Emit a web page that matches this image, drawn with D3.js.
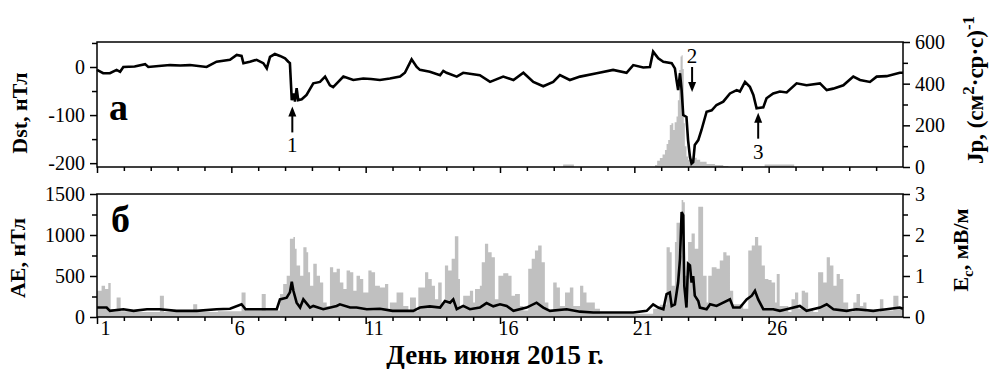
<!DOCTYPE html>
<html><head><meta charset="utf-8">
<script src="https://cdn.jsdelivr.net/npm/d3@7"></script>
<style>
body{margin:0;background:#fff}
svg{display:block}
text{font-family:"Liberation Serif","Times New Roman",serif;fill:#000}
</style>
</head><body>
<svg id="c" width="991" height="369"></svg>
<script>
// ---- data (day of June 2015, value) ----
const dstSeries = [[1.0,-6],[1.23,-13],[1.48,-13],[1.73,-6],[1.86,-10],[1.98,0],[2.4,1],[2.79,6],[2.91,0],[3.3,2],[3.72,4],[4.1,3],[4.46,4],[5.08,0],[5.45,11],[5.95,15],[6.2,25],[6.38,23],[6.45,8],[6.69,11],[6.94,15],[7.19,8],[7.32,-3],[7.44,21],[7.62,27],[7.81,23],[8.0,18],[8.12,11],[8.18,8],[8.25,-69],[8.31,-55],[8.37,-72],[8.43,-44],[8.49,-69],[8.62,-67],[8.8,-58],[9.05,-34],[9.3,-31],[9.49,-20],[9.67,-38],[9.79,-42],[9.98,-31],[10.17,-20],[10.54,-27],[10.91,-24],[11.2,-25],[11.53,-27],[11.9,-24],[12.28,-20],[12.46,-12],[12.71,16],[12.9,0],[13.02,-6],[13.39,-10],[13.77,-17],[13.89,-8],[14.01,-12],[14.39,-20],[14.63,-12],[15.25,-17],[15.63,-31],[16.12,-20],[16.5,-27],[16.87,-12],[17.24,-31],[17.61,-40],[17.98,-31],[18.23,-17],[18.6,-27],[18.98,-20],[19.6,-13],[20.21,-6],[20.71,-12],[20.96,4],[21.33,-1],[21.58,0],[21.7,32],[21.89,18],[22.08,11],[22.39,8],[22.51,-3],[22.57,-27],[22.63,-48],[22.7,-13],[22.76,-48],[22.82,-100],[22.94,-104],[23.0,-152],[23.07,-187],[23.13,-201],[23.19,-198],[23.25,-162],[23.38,-152],[23.5,-131],[23.69,-93],[23.88,-90],[24.06,-79],[24.31,-72],[24.56,-55],[24.81,-48],[24.93,-51],[25.12,-31],[25.3,-41],[25.43,-58],[25.55,-86],[25.8,-84],[25.92,-65],[26.17,-55],[26.42,-51],[26.67,-53],[27.04,-34],[27.41,-38],[27.91,-34],[28.16,-48],[28.4,-45],[28.78,-38],[29.15,-20],[29.4,-27],[29.77,-31],[30.02,-20],[30.39,-19],[30.88,-12],[31.0,-12]];

const jpSeries = [[1,0],[18.3,0],[18.35,12],[18.7,12],[18.75,0],[21.72,0],[21.77,10],[21.85,30],[21.95,43],[22.05,60],[22.14,82],[22.2,110],[22.26,130],[22.32,202],[22.38,210],[22.45,178],[22.5,215],[22.57,242],[22.62,320],[22.67,466],[22.72,530],[22.76,537],[22.8,470],[22.84,210],[22.88,100],[22.94,50],[23.0,35],[23.1,40],[23.2,45],[23.32,35],[23.45,25],[23.69,15],[24.0,10],[24.31,5],[24.5,0],[25.8,0],[25.85,12],[26.9,12],[26.95,0],[31,0]];

const aeSeries = [[1.0,320],[1.17,381],[1.3,340],[1.42,414],[1.51,95],[1.6,70],[1.73,238],[1.88,70],[2.5,60],[3.34,258],[3.49,60],[4.58,156],[4.73,60],[5.5,70],[6.38,299],[6.53,80],[7.13,279],[7.28,80],[7.81,279],[7.93,402],[8.06,504],[8.18,955],[8.31,975],[8.37,832],[8.43,627],[8.56,504],[8.68,852],[8.8,791],[8.86,545],[8.93,381],[9.05,648],[9.18,504],[9.3,422],[9.42,176],[9.55,135],[9.67,606],[9.79,545],[9.92,587],[10.04,422],[10.17,340],[10.29,566],[10.42,545],[10.54,320],[10.66,504],[10.79,463],[10.91,299],[11.1,566],[11.22,545],[11.35,381],[11.53,361],[11.72,402],[11.84,100],[11.9,176],[12.15,299],[12.4,135],[12.59,60],[12.65,238],[12.87,70],[12.96,361],[13.21,545],[13.33,463],[13.46,381],[13.58,217],[13.7,422],[13.83,176],[13.95,627],[14.07,566],[14.2,709],[14.32,984],[14.45,463],[14.51,135],[14.63,258],[14.88,320],[15.0,176],[15.07,340],[15.25,381],[15.32,668],[15.44,894],[15.56,791],[15.69,730],[15.81,217],[15.94,504],[16.12,533],[16.31,504],[16.43,258],[16.56,279],[16.74,135],[16.87,80],[17.05,587],[17.18,709],[17.3,812],[17.42,873],[17.55,668],[17.67,176],[17.8,70],[17.98,422],[18.11,361],[18.23,135],[18.42,299],[18.6,361],[18.73,135],[18.98,381],[19.1,299],[19.22,176],[19.53,100],[19.72,40],[21.46,40],[21.7,100],[21.95,150],[22.2,852],[22.32,791],[22.39,381],[22.51,914],[22.57,1150],[22.7,750],[22.76,1427],[22.82,1400],[22.88,504],[23.0,914],[23.13,1017],[23.25,832],[23.38,1345],[23.56,504],[23.69,176],[23.75,504],[23.88,606],[24.06,587],[24.18,689],[24.31,791],[24.43,750],[24.56,320],[24.68,156],[25.05,100],[25.24,812],[25.37,873],[25.49,975],[25.61,873],[25.74,627],[25.86,463],[25.99,450],[26.11,422],[26.24,176],[26.3,525],[26.41,135],[26.73,60],[26.85,217],[26.98,299],[27.1,100],[27.23,320],[27.35,299],[27.47,100],[27.66,60],[27.84,545],[28.03,422],[28.16,730],[28.28,627],[28.41,381],[28.53,525],[28.65,463],[28.78,176],[28.96,60],[29.15,176],[29.27,279],[29.4,135],[29.52,176],[29.64,60],[30.14,217],[30.27,80],[30.64,258],[30.83,100],[31,60]];

const ecSeries = [[1.0,0.23],[1.36,0.23],[1.48,0.15],[1.98,0.19],[2.36,0.15],[2.86,0.19],[3.34,0.19],[3.96,0.15],[4.71,0.15],[5.45,0.19],[5.95,0.2],[6.38,0.31],[6.53,0.19],[7.19,0.19],[7.69,0.19],[7.81,0.43],[8.06,0.47],[8.18,0.6],[8.25,0.86],[8.31,0.64],[8.43,0.35],[8.56,0.23],[8.68,0.43],[8.93,0.23],[9.05,0.27],[9.42,0.19],[9.92,0.27],[10.04,0.31],[10.42,0.23],[10.66,0.23],[11.04,0.19],[11.53,0.2],[12.0,0.15],[12.77,0.15],[13.02,0.23],[13.39,0.26],[13.77,0.23],[13.95,0.39],[14.14,0.35],[14.26,0.43],[14.39,0.19],[14.63,0.27],[14.88,0.19],[15.25,0.23],[15.5,0.34],[15.75,0.26],[16.0,0.31],[16.25,0.27],[16.5,0.15],[16.99,0.23],[17.36,0.35],[17.61,0.23],[17.86,0.15],[18.48,0.19],[18.98,0.13],[19.47,0.11],[20.96,0.11],[21.46,0.15],[21.7,0.31],[21.89,0.23],[22.08,0.19],[22.2,0.56],[22.32,0.6],[22.39,0.27],[22.51,0.31],[22.63,0.84],[22.7,1.42],[22.76,2.56],[22.82,2.48],[22.86,0.76],[22.94,0.23],[23.0,1.3],[23.07,1.26],[23.13,0.84],[23.19,1.0],[23.25,0.52],[23.38,0.39],[23.44,0.23],[23.69,0.19],[23.82,0.31],[24.06,0.27],[24.56,0.43],[24.68,0.23],[24.93,0.23],[25.18,0.43],[25.37,0.52],[25.49,0.64],[25.61,0.43],[25.8,0.19],[26.17,0.19],[26.42,0.15],[26.67,0.19],[27.16,0.27],[27.41,0.15],[27.91,0.23],[28.16,0.31],[28.41,0.19],[28.9,0.15],[29.27,0.19],[29.89,0.15],[30.39,0.19],[30.88,0.23],[31,0.2]];

const dayTicksMajor = [1, 6, 11, 16, 21, 26];
const dstTicks = [0, -100, -200], dstMinor = [50, -50, -150];
const jpTicks = [0, 200, 400, 600], jpMinor = [100, 300, 500];
const aeTicks = [0, 500, 1000, 1500], aeMinor = [250, 750, 1250];
const ecTicks = [0, 1, 2, 3], ecMinor = [0.5, 1.5, 2.5];
// events marked by arrows: [day, label, direction]
const events = [[8.27, "1", "up"], [23.15, "2", "down"], [25.61, "3", "up"]];

// ---- layout ----
const svg = d3.select("#c");
const L = 97, R = 903;
const top1 = 42, bot1 = 167, top2 = 194, bot2 = 317;
const x = d3.scaleLinear().domain([1, 31]).range([L, R]);
const yDst = d3.scaleLinear().domain([-208, 52]).range([bot1, top1]);
const yJp = d3.scaleLinear().domain([0, 600]).range([bot1, top1]);
const yAE = d3.scaleLinear().domain([0, 1500]).range([bot2, top2]);
const yEc = d3.scaleLinear().domain([0, 3]).range([bot2, top2]);
const GRAY = "#c0c0c0";
const plain = d => String(d);

// gray fills
svg.append("path").datum(jpSeries)
  .attr("fill", GRAY)
  .attr("d", d3.area().curve(d3.curveStepAfter).x(d => x(d[0])).y0(yJp(0)).y1(d => yJp(d[1])));
svg.append("path").datum(aeSeries)
  .attr("fill", GRAY)
  .attr("d", d3.area().curve(d3.curveStepAfter).x(d => x(d[0])).y0(yAE(0)).y1(d => yAE(d[1])));

// black lines
svg.append("path").datum(dstSeries)
  .attr("fill", "none").attr("stroke", "#000").attr("stroke-width", 2.6).attr("stroke-linejoin", "miter")
  .attr("d", d3.line().x(d => x(d[0])).y(d => yDst(d[1])));
svg.append("path").datum(ecSeries)
  .attr("fill", "none").attr("stroke", "#000").attr("stroke-width", 2.6)
  .attr("d", d3.line().x(d => x(d[0])).y(d => yEc(d[1])));

// frames
[[top1, bot1], [top2, bot2]].forEach(([t, b]) => {
  svg.append("rect").attr("x", L).attr("y", t).attr("width", R - L).attr("height", b - t)
    .attr("fill", "none").attr("stroke", "#000").attr("stroke-width", 1.5);
});

function styleAxis(g) {
  g.select(".domain").remove();
  g.selectAll("line").attr("stroke", "#000").attr("stroke-width", 1.5);
  g.selectAll("text").attr("font-size", 20).attr("font-family", '"Liberation Serif", serif').attr("fill", "#000");
}
function addAxis(gen, tx, ty) {
  const g = svg.append("g").attr("transform", `translate(${tx},${ty})`).call(gen);
  styleAxis(g);
  return g;
}
const minorDays = d3.range(2, 31).filter(d => !dayTicksMajor.includes(d));

// left / right axes
addAxis(d3.axisLeft(yDst).tickValues(dstTicks).tickSize(7).tickPadding(5).tickFormat(plain), L, 0);
addAxis(d3.axisLeft(yDst).tickValues(dstMinor).tickSize(5).tickFormat(""), L, 0);
addAxis(d3.axisRight(yJp).tickValues(jpTicks).tickSize(7).tickPadding(5).tickFormat(plain), R, 0);
addAxis(d3.axisRight(yJp).tickValues(jpMinor).tickSize(5).tickFormat(""), R, 0);
addAxis(d3.axisLeft(yAE).tickValues(aeTicks).tickSize(7).tickPadding(5).tickFormat(plain), L, 0);
addAxis(d3.axisLeft(yAE).tickValues(aeMinor).tickSize(5).tickFormat(""), L, 0);
addAxis(d3.axisRight(yEc).tickValues(ecTicks).tickSize(7).tickPadding(5).tickFormat(plain), R, 0);
addAxis(d3.axisRight(yEc).tickValues(ecMinor).tickSize(5).tickFormat(""), R, 0);

// bottom axes
addAxis(d3.axisBottom(x).tickValues(dayTicksMajor).tickSize(6).tickFormat(""), 0, bot1);
addAxis(d3.axisBottom(x).tickValues(minorDays).tickSize(4).tickFormat(""), 0, bot1);
const gx = addAxis(d3.axisBottom(x).tickValues(dayTicksMajor).tickSize(7).tickPadding(-3).tickFormat(plain), 0, bot2);
gx.selectAll("text").attr("dx", 8);
addAxis(d3.axisBottom(x).tickValues(minorDays).tickSize(4).tickFormat(""), 0, bot2);

// axis titles
function vtitle(xp, yp, build, fs) {
  const t = svg.append("text").attr("transform", `translate(${xp},${yp}) rotate(-90)`)
    .attr("text-anchor", "middle").attr("font-size", fs || 22).attr("font-weight", "bold");
  build(t);
  return t;
}
vtitle(27, 113, t => t.text("Dst, нТл"));
vtitle(25, 258, t => t.text("AE, нТл"));
vtitle(983, 90, t => {
  t.append("tspan").text("Jp, (см");
  t.append("tspan").attr("font-size", 17).attr("dy", -9).text("2");
  t.append("tspan").attr("dy", 9).text("·ср·с)");
  t.append("tspan").attr("font-size", 17).attr("dy", -9).text("-1");
}, 23);
vtitle(968, 250, t => {
  t.append("tspan").text("E");
  t.append("tspan").attr("font-size", 15).attr("dy", 5).text("c");
  t.append("tspan").attr("dy", -5).text(", мВ/м");
});
svg.append("text").attr("x", 495).attr("y", 364).attr("text-anchor", "middle")
  .attr("font-size", 27).attr("font-weight", "bold").text("День июня 2015 г.");

// panel letters
svg.append("text").attr("x", 109).attr("y", 120).attr("font-size", 38).attr("font-weight", "bold").text("а");
svg.append("text").attr("x", 111).attr("y", 232).attr("font-size", 38).attr("font-weight", "bold").text("б");

// event arrows
events.forEach(([day, lab, dir]) => {
  const ax = x(day);
  if (dir === "up") {
    const tip = yDst(day < 20 ? -82 : -95) ;
    svg.append("line").attr("x1", ax).attr("x2", ax).attr("y1", tip + 6).attr("y2", tip + 26).attr("stroke", "#000").attr("stroke-width", 2);
    svg.append("path").attr("d", `M${ax},${tip} L${ax - 4},${tip + 10} L${ax + 4},${tip + 10} Z`).attr("fill", "#000");
    svg.append("text").attr("x", ax).attr("y", tip + 46).attr("text-anchor", "middle").attr("font-size", 21).text(lab);
  } else {
    const tip = yDst(-52);
    svg.append("line").attr("x1", ax).attr("x2", ax).attr("y1", tip - 25).attr("y2", tip - 6).attr("stroke", "#000").attr("stroke-width", 2);
    svg.append("path").attr("d", `M${ax},${tip} L${ax - 4},${tip - 10} L${ax + 4},${tip - 10} Z`).attr("fill", "#000");
    svg.append("text").attr("x", ax).attr("y", tip - 29).attr("text-anchor", "middle").attr("font-size", 21).text(lab);
  }
});
</script>
</body></html>
